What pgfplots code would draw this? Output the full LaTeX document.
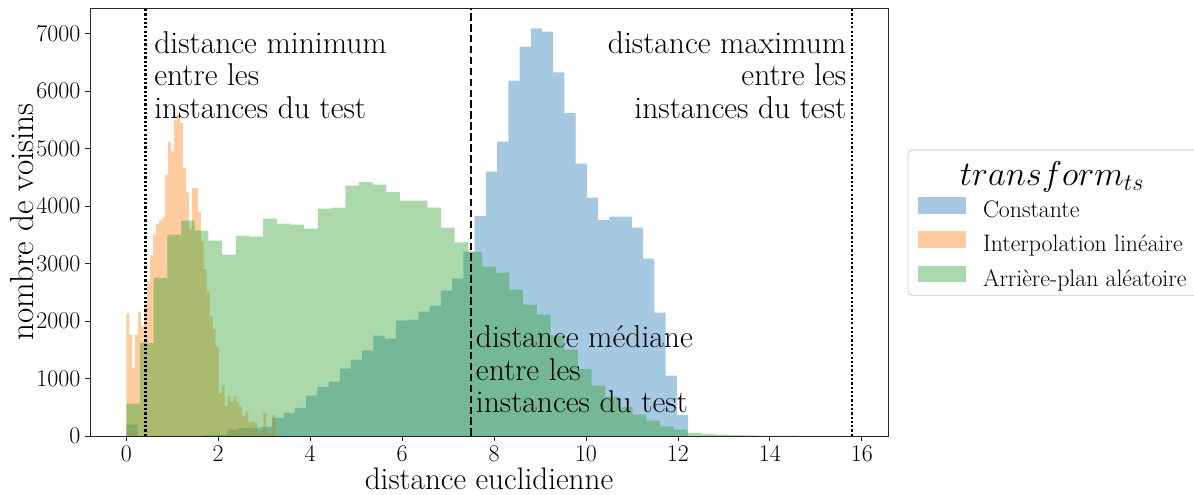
\documentclass[border=0pt]{standalone}
\usepackage{pgfplots}
\usepackage{pgfplotstable}
\pgfplotsset{compat=1.18}

\definecolor{tabblue}{HTML}{1F77B4}
\definecolor{taborange}{HTML}{FF7F0E}
\definecolor{tabgreen}{HTML}{2CA02C}

% histogrammes : bord gauche de la classe, effectif (derniere ligne = bord droit)
\pgfplotstableread{
x y
0.0000 196
0.2444 0
0.4888 0
0.7332 0
0.9776 0
1.2220 0
1.4664 0
1.7108 20
1.9552 25
2.1996 110
2.4440 135
2.6884 140
2.9328 160
3.1772 313
3.4216 400
3.6660 487
3.9104 701
4.1548 852
4.3992 944
4.6436 1170
4.8880 1327
5.1324 1483
5.3768 1744
5.6212 1692
5.8656 2005
6.1100 2022
6.3544 2162
6.5988 2266
6.8432 2527
7.0876 2736
7.3320 3205
7.5764 3826
7.8208 4596
8.0652 5118
8.3096 6179
8.5540 6770
8.7984 7089
9.0428 7031
9.2872 6323
9.5316 5617
9.7760 4735
10.0204 4144
10.2648 3755
10.5092 3814
10.7536 3814
10.9980 3622
11.2424 3083
11.4868 2144
11.7312 1049
11.9756 365
12.2200 0
}\constante

\pgfplotstableread{
x y
0.0000 2127
0.0648 1762
0.1296 1182
0.1944 1760
0.2592 2162
0.3240 1906
0.3888 2300
0.4536 2689
0.5184 3141
0.5832 3501
0.6480 3692
0.7128 3750
0.7776 3800
0.8424 4544
0.9072 5113
0.9720 4949
1.0368 5488
1.1016 5605
1.1664 5443
1.2312 4661
1.2960 4236
1.3608 3600
1.4256 4313
1.4904 4313
1.5552 3900
1.6200 3385
1.6848 2900
1.7496 2515
1.8144 2080
1.8792 1849
1.9440 1559
2.0088 748
2.0736 875
2.1384 515
2.2032 689
2.2680 602
2.3328 689
2.3976 602
2.4624 515
2.5272 341
2.5920 430
2.6568 237
2.7216 254
2.7864 225
2.8512 52
2.9160 100
2.9808 399
3.0456 52
3.1104 30
3.1752 371
3.2400 0
}\interpolation

\pgfplotstableread{
x y
0.0000 563
0.2977 1617
0.5954 2748
0.8931 3501
1.1908 3744
1.4885 3570
1.7862 3397
2.0839 3153
2.3816 3483
2.6793 3466
2.9770 3779
3.2747 3692
3.5724 3675
3.8701 3605
4.1678 3953
4.4655 3970
4.7632 4353
5.0609 4417
5.3586 4370
5.6563 4243
5.9540 4092
6.2517 4092
6.5494 3970
6.8471 3623
7.1448 3367
7.4425 3200
7.7402 2944
8.0379 2840
8.3356 2544
8.6333 2283
8.9310 2110
9.2287 1750
9.5264 1501
9.8241 1165
10.1218 875
10.4195 680
10.7172 500
11.0149 370
11.3126 266
11.6103 167
11.9080 110
12.2057 55
12.5034 35
12.8011 23
13.0988 15
13.3965 10
13.6942 8
13.9919 6
14.2896 5
14.5873 3
14.8850 2
15.1827 0
15.4804 1
15.7781 0
}\arriereplan

\begin{document}
\begin{tikzpicture}
\begin{axis}[
  scale only axis,
  width=576.7pt, height=309.3pt,
  xmin=-0.789, xmax=16.569,
  ymin=0, ymax=7443,
  axis line style={black!85, line width=0.6pt},
  tick align=outside,
  xtick pos=bottom, ytick pos=left,
  major tick length=3.5pt,
  tick style={black!85, line width=0.6pt},
  xtick={0,2,...,16},
  ytick={0,1000,...,7000},
  scaled y ticks=false,
  yticklabel style={/pgf/number format/1000 sep={}},
  tick label style={font=\fontsize{16}{19}\selectfont},
  xticklabel style={inner sep=1pt, yshift=-2.6pt},
  xlabel={distance euclidienne},
  ylabel={nombre de voisins},
  xlabel style={at={(rel axis cs:0.5,-0.075)}, anchor=north, inner sep=0pt, font=\fontsize{22.5}{27}\selectfont},
  ylabel style={at={(rel axis cs:-0.0856,0.5)}, anchor=center, font=\fontsize{24}{28}\selectfont},
  legend style={draw=none, fill=none, at={(1.0376,0.5586)}, anchor=north west,
    inner sep=0pt, outer sep=0pt, row sep=6.3pt, column sep=12.3pt,
    font=\fontsize{17.2}{20}\selectfont,
    nodes={inner sep=0pt, text height=11.5pt, text depth=3.5pt}},
  legend cell align=left,
  legend image code/.code={\fill[#1] (0pt,-1pt) rectangle (34.7pt,11pt);},
]
\addplot[ybar interval, fill=tabblue, fill opacity=0.4, draw=none] table {\constante};
\addlegendentry{Constante}
\addplot[ybar interval, fill=taborange, fill opacity=0.4, draw=none] table {\interpolation};
\addlegendentry{Interpolation linéaire}
\addplot[ybar interval, fill=tabgreen, fill opacity=0.4, draw=none] table {\arriereplan};
\addlegendentry{Arrière-plan aléatoire}

\addplot[forget plot, black, line width=1.6pt, dash pattern=on 1.6pt off 1.5pt] coordinates {(0.42,0) (0.42,7443)};
\addplot[forget plot, black, line width=1.5pt, dash pattern=on 5.5pt off 2.4pt] coordinates {(7.50,0) (7.50,7443)};
\addplot[forget plot, black, line width=1.6pt, dash pattern=on 1.6pt off 1.5pt] coordinates {(15.78,0) (15.78,7443)};

\node[anchor=north west, align=left, inner sep=0pt, font=\fontsize{22.8}{23.3}\selectfont]
  at (axis cs:0.603,7037) {distance minimum\\entre les\\instances du test};
\node[anchor=north east, align=right, inner sep=0pt, font=\fontsize{22.8}{23.3}\selectfont]
  at (axis cs:15.667,7037) {distance maximum\\entre les\\instances du test};
\node[anchor=north west, align=left, inner sep=0pt, font=\fontsize{22.8}{23.3}\selectfont]
  at (axis cs:7.601,1918) {distance médiane\\entre les\\instances du test};

\coordinate (legA) at (rel axis cs:1.025,0.329);
\coordinate (legB) at (rel axis cs:1.392,0.668);
\coordinate (legT) at (rel axis cs:1.2055,0.606);
\coordinate (bbA) at (rel axis cs:-0.1128,-0.1375);
\coordinate (bbB) at (rel axis cs:1.3835,1.0187);
\end{axis}
\draw[black!20, line width=0.6pt, rounded corners=3pt] (legA) rectangle (legB);
\node[font=\fontsize{24.4}{28}\selectfont] at (legT) {$transform_{ts}$};
\pgfresetboundingbox
\path[use as bounding box] (bbA) rectangle (bbB);
\end{tikzpicture}
\end{document}
